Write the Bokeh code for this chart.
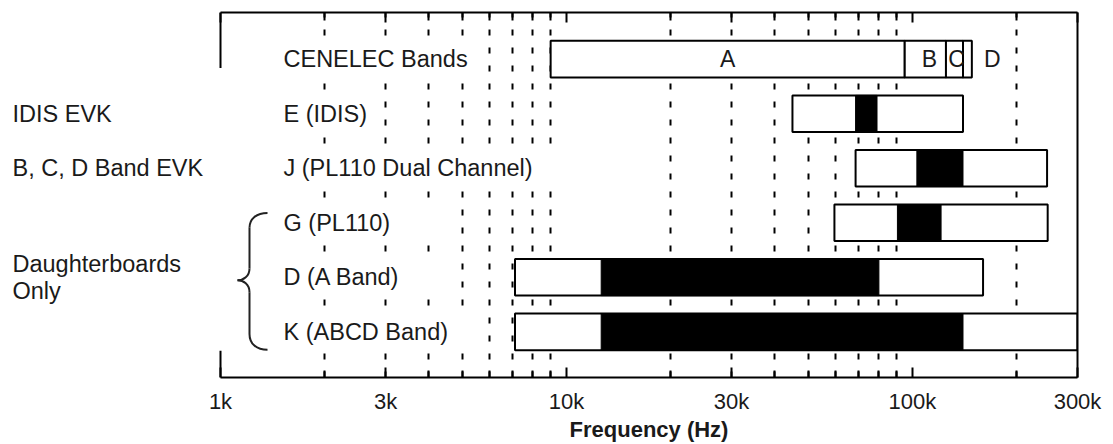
import math
from bokeh.plotting import figure
from bokeh.models import (Range1d, FixedTicker, LogAxis, LinearAxis,
                          ColumnDataSource, CustomJSTickFormatter)
from bokeh.embed import file_html
from bokeh.resources import INLINE
from bokeh.core.properties import value

# ---------------- data ----------------
row_names = ["CENELEC Bands", "E (IDIS)", "J (PL110 Dual Channel)",
             "G (PL110)", "D (A Band)", "K (ABCD Band)"]
row_pos = [6, 5, 4, 3, 2, 1]

cenelec_names = ["A", "B", "C", "D"]
cenelec_start = [9000, 95000, 125000, 140000]
cenelec_end = [95000, 125000, 140000, 148500]

board_pos = [5, 4, 3, 2, 1]
board_start = [45000, 68500, 59500, 7100, 7100]
board_end = [140000, 245000, 246000, 160000, 300000]
band_start = [68500, 103000, 90500, 12600, 12600]
band_end = [79000, 140000, 121000, 80000, 140000]

group_names = ["IDIS EVK", "B, C, D Band EVK", "Daughterboards", "Only"]
group_pos = [5, 4, 2, 2]

tick_values = [1000, 3000, 10000, 30000, 100000, 300000]
tick_labels = ["1k", "3k", "10k", "30k", "100k", "300k"]
minor_values = [2000, 4000, 5000, 6000, 7000, 8000, 9000,
                20000, 40000, 50000, 60000, 70000, 80000, 90000, 200000]
grid_values = [2000, 3000, 4000, 5000, 6000, 7000, 8000, 9000,
               20000, 30000, 40000, 50000, 60000, 70000, 80000, 90000, 200000]
x_title = "Frequency (Hz)"

# ---------------- layout helpers (decoration only) ----------------
X0, X1 = 1000, 300000
PX_DEC = 857 / math.log10(X1 / X0)   # pixels per decade
PX_ROW = 55.0
LEFT_PX = 220                          # room left of the 1k edge


def px_x(dx):
    """frequency at dx pixels right of the 1k edge"""
    return X0 * 10 ** (dx / PX_DEC)


def off_y(row, dy):
    """data y at dy pixels below a row centre"""
    return row - dy / PX_ROW


BAR_H = 0.67
FONT = "Liberation Sans"
TXT = "#1a1a1a"
Y0, Y1 = 0.164, 6.855

p = figure(width=1113, height=444, x_axis_type="log",
           x_range=Range1d(px_x(-LEFT_PX), X1), y_range=Range1d(Y0, Y1),
           output_backend="svg", toolbar_location=None, y_axis_location=None,
           min_border_left=0, min_border_right=36, min_border_top=12,
           min_border_bottom=64)
p.outline_line_color = None
p.background_fill_color = "white"
p.border_fill_color = "white"
p.ygrid.visible = False
p.xgrid.ticker = FixedTicker(ticks=grid_values)
p.xgrid.grid_line_color = "black"
p.xgrid.grid_line_width = 2
p.xgrid.grid_line_dash = "6 12"

fmt = CustomJSTickFormatter(args=dict(vals=tick_values, labs=tick_labels), code="""
    for (let i = 0; i < vals.length; i++) {
        if (Math.abs(vals[i] - tick) < 1e-6 * vals[i]) return labs[i];
    }
    return "";
""")

xa = p.xaxis[0]
xa.bounds = (X0, X1)
xa.ticker = FixedTicker(ticks=tick_values, minor_ticks=minor_values)
xa.formatter = fmt
xa.axis_line_width = 2
xa.axis_line_color = "black"
xa.major_tick_in = 10
xa.major_tick_out = 0
xa.minor_tick_in = 7
xa.minor_tick_out = 0
xa.major_tick_line_width = 2
xa.minor_tick_line_width = 2
xa.major_tick_line_color = "black"
xa.minor_tick_line_color = "black"
xa.major_label_standoff = 11
xa.major_label_text_font = FONT
xa.major_label_text_font_size = "22px"
xa.major_label_text_color = TXT

# axis title drawn as the single label of a second, line-less axis
title_axis = LogAxis(ticker=FixedTicker(ticks=[math.sqrt(X0 * X1)], minor_ticks=[]),
                     formatter=CustomJSTickFormatter(args=dict(t=x_title), code="return t;"),
                     axis_line_color=None, major_tick_line_color=None,
                     minor_tick_line_color=None, major_tick_in=0, major_tick_out=0,
                     minor_tick_in=0, minor_tick_out=0, major_label_standoff=0,
                     major_label_text_font=FONT, major_label_text_font_size="22px",
                     major_label_text_font_style="bold", major_label_text_color=TXT)
p.add_layout(title_axis, "below")

ta = LogAxis(ticker=FixedTicker(ticks=tick_values, minor_ticks=minor_values),
             bounds=(X0, X1),
             formatter=CustomJSTickFormatter(code='return "";'),
             major_label_text_font_size="0px", major_label_text_color=None,
             major_label_standoff=0,
             axis_line_width=2, axis_line_color="black",
             major_tick_in=10, major_tick_out=0, minor_tick_in=8, minor_tick_out=0,
             major_tick_line_width=2, minor_tick_line_width=2)
p.add_layout(ta, "above")

ra = LinearAxis(ticker=FixedTicker(ticks=[], minor_ticks=[]),
                major_label_standoff=0, axis_line_width=2, axis_line_color="black",
                major_tick_in=0, major_tick_out=0, minor_tick_in=0, minor_tick_out=0)
p.add_layout(ra, "right")

# partial left border
p.segment(x0=[X0, X0], x1=[X0, X0], y0=[Y1, Y0], y1=[off_y(6, 9), off_y(1, 19)],
          line_width=2, line_color="black")

# white boxes behind row labels
box_right_px = [258, 158, 335, 225, 225, 252]
p.hbar(y=row_pos, left=px_x(55), right=[px_x(v) for v in box_right_px],
       height=BAR_H + 0.05, fill_color="white", line_color=None)

# CENELEC bands
csrc = ColumnDataSource(dict(y=[6] * 4, left=cenelec_start, right=cenelec_end))
p.hbar(y="y", left="left", right="right", height=BAR_H, source=csrc,
       fill_color="white", line_color="black", line_width=2)
letter_x = [math.sqrt(a * b) for a, b in zip(cenelec_start, cenelec_end)]
p.text(x=letter_x, y=[6] * 4, text=cenelec_names, x_offset=[0, 4, 2, 25],
       text_align="center", text_baseline="middle", text_font=value(FONT),
       text_font_size="23px", text_color=TXT)

# board ranges and dark bands
p.hbar(y=board_pos, left=board_start, right=board_end, height=BAR_H,
       fill_color="white", line_color="black", line_width=2)
p.hbar(y=board_pos, left=band_start, right=band_end, height=BAR_H,
       fill_color="black", line_color="black", line_width=1)

# row labels
p.text(x=[X0] * 6, y=row_pos, text=row_names, x_offset=63,
       text_align="left", text_baseline="middle", text_font=value(FONT),
       text_font_size="23.5px", text_color=TXT)

# brace
bx, tip = 29, 17
p.bezier(x0=[px_x(47), px_x(bx), px_x(tip), px_x(bx)],
         y0=[off_y(3, -10), off_y(2, -9), off_y(2, 3), off_y(1, 2)],
         x1=[px_x(bx), px_x(tip), px_x(bx), px_x(47)],
         y1=[off_y(3, 5), off_y(2, 3), off_y(2, 15), off_y(1, 18)],
         cx0=[px_x(36), px_x(bx), px_x(23), px_x(bx)],
         cy0=[off_y(3, -10), off_y(2, -1), off_y(2, 3), off_y(1, 12)],
         cx1=[px_x(bx), px_x(23), px_x(bx), px_x(36)],
         cy1=[off_y(3, -4), off_y(2, 3), off_y(2, 7), off_y(1, 18)],
         line_color="#222222", line_width=2)
p.segment(x0=[px_x(bx), px_x(bx)], y0=[off_y(3, 5), off_y(2, 15)],
          x1=[px_x(bx), px_x(bx)], y1=[off_y(2, -9), off_y(1, 2)],
          line_color="#222222", line_width=2)

# group labels left of the chart box
p.text(x=[X0] * 4, y=[off_y(r, d) for r, d in zip(group_pos, [0, 0, -13.5, 13.5])],
       text=group_names, x_offset=-208, text_align="left", text_baseline="middle",
       text_font=value(FONT), text_font_size="23.5px", text_color=TXT)

open("out.html", "w").write(file_html(p, INLINE))
